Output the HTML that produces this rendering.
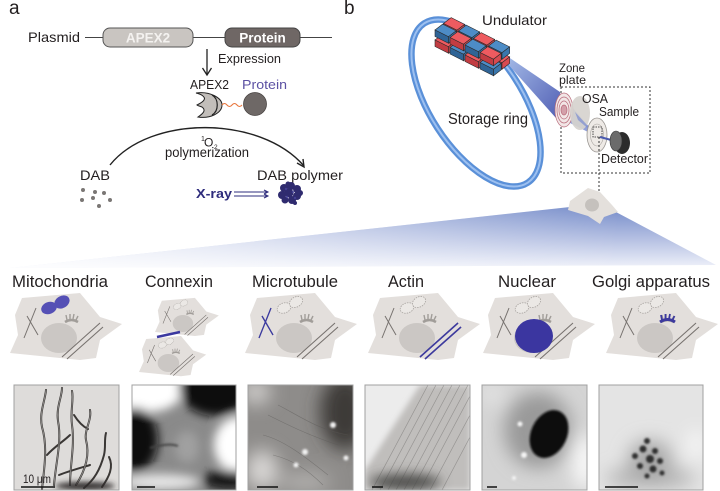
<!DOCTYPE html>
<html><head><meta charset="utf-8"><style>
html,body{margin:0;padding:0;background:#fff;width:720px;height:491px;overflow:hidden;}
svg{display:block;}
text{font-family:"Liberation Sans",Arial,sans-serif;fill:#231f20;}
</style></head><body>
<svg width="720" height="491" viewBox="0 0 720 491" xmlns="http://www.w3.org/2000/svg">
<defs>
 <filter id="b1" filterUnits="userSpaceOnUse" x="0" y="0" width="720" height="491"><feGaussianBlur stdDeviation="1"/></filter>
 <filter id="b3" filterUnits="userSpaceOnUse" x="0" y="0" width="720" height="491"><feGaussianBlur stdDeviation="3"/></filter>
 <filter id="b5" filterUnits="userSpaceOnUse" x="0" y="0" width="720" height="491"><feGaussianBlur stdDeviation="5"/></filter>
 <filter id="b6" filterUnits="userSpaceOnUse" x="0" y="0" width="720" height="491"><feGaussianBlur stdDeviation="6"/></filter>
 <filter id="b9" filterUnits="userSpaceOnUse" x="0" y="0" width="720" height="491"><feGaussianBlur stdDeviation="9"/></filter>
 <linearGradient id="fv" gradientUnits="userSpaceOnUse" x1="0" y1="205" x2="0" y2="268">
  <stop offset="0" stop-color="#7289c8"/><stop offset="0.55" stop-color="#b6c1e3"/><stop offset="1" stop-color="#f0f2fa"/>
 </linearGradient>
 <linearGradient id="fh" gradientUnits="userSpaceOnUse" x1="620" y1="0" x2="0" y2="0">
  <stop offset="0" stop-color="#fff" stop-opacity="0"/><stop offset="1" stop-color="#fff" stop-opacity="0.9"/>
 </linearGradient>
 <linearGradient id="beam" gradientUnits="userSpaceOnUse" x1="500" y1="55" x2="565" y2="110">
  <stop offset="0" stop-color="#a9c0ea"/><stop offset="1" stop-color="#5462b6"/>
 </linearGradient>
 <g id="bB"><polygon points="0,0 13.5,6.75 21.15,0.9 7.65,-5.85" fill="#4d8cc6" stroke="#2a2a2a" stroke-width="0.6"/><polygon points="0,0 13.5,6.75 13.5,13.25 0,6.5" fill="#2f6496" stroke="#2a2a2a" stroke-width="0.6"/><polygon points="13.5,6.75 21.15,0.9 21.15,7.4 13.5,13.25" fill="#3a77ad" stroke="#2a2a2a" stroke-width="0.6"/></g>
 <g id="bR"><polygon points="0,0 13.5,6.75 21.15,0.9 7.65,-5.85" fill="#ee5b60" stroke="#2a2a2a" stroke-width="0.6"/><polygon points="0,0 13.5,6.75 13.5,13.25 0,6.5" fill="#c23c42" stroke="#2a2a2a" stroke-width="0.6"/><polygon points="13.5,6.75 21.15,0.9 21.15,7.4 13.5,13.25" fill="#d84a50" stroke="#2a2a2a" stroke-width="0.6"/></g>
 <g id="cell">
  <polygon points="12,10 70,5 90,29 112,36 90,52 86,70 70,72 0,65 8,47 5,27" fill="#e3dfdc"/>
  <ellipse cx="39" cy="20" rx="7" ry="5" transform="rotate(-20 39 20)" fill="#ebe8e5" stroke="#a8a4a0" stroke-width="0.8" stroke-dasharray="1.5,1"/>
  <ellipse cx="51" cy="14" rx="7" ry="5" transform="rotate(-30 51 14)" fill="#ebe8e5" stroke="#a8a4a0" stroke-width="0.8" stroke-dasharray="1.5,1"/>
  <ellipse cx="49" cy="50" rx="18" ry="15" fill="#cbc7c4"/>
  <path d="M55,34 Q61.5,30 68,34" stroke="#a19d99" stroke-width="2.5" fill="none"/>
  <path d="M57,32 L56,27 M60,31 L60,26 M63,31 L64,26 M66,32 L68,28" stroke="#a19d99" stroke-width="1.4"/>
  <path d="M14,50 L26,20 M17,28 L28,47" stroke="#77726f" stroke-width="1"/>
  <path d="M52,69 L90,35 M57,71 L93,39" stroke="#77726f" stroke-width="1.1"/>
 </g>
 <clipPath id="c1"><rect x="14" y="385" width="105" height="105"/></clipPath>
 <clipPath id="c2"><rect x="132" y="385" width="104" height="105"/></clipPath>
 <clipPath id="c3"><rect x="248" y="385" width="105" height="105"/></clipPath>
 <clipPath id="c4"><rect x="365" y="385" width="105" height="105"/></clipPath>
 <clipPath id="c5"><rect x="482" y="385" width="105" height="105"/></clipPath>
 <clipPath id="c6"><rect x="599" y="385" width="104" height="105"/></clipPath>
</defs>

<!-- Panel labels -->
<text x="9" y="14" font-size="19">a</text>
<text x="344" y="14" font-size="19">b</text>

<!-- Panel a -->
<line x1="85" y1="37.5" x2="332" y2="37.5" stroke="#444" stroke-width="1"/>
<text x="28" y="42" font-size="14" textLength="52" lengthAdjust="spacingAndGlyphs">Plasmid</text>
<rect x="103" y="28" width="90" height="19" rx="7" fill="#c9c5c1" stroke="#555" stroke-width="1"/>
<text x="148" y="42.5" font-size="13.5" font-weight="bold" text-anchor="middle" style="fill:#f4f2f0">APEX2</text>
<rect x="225" y="28" width="75" height="19" rx="7" fill="#6f6765" stroke="#444" stroke-width="1"/>
<text x="262.5" y="42.5" font-size="13.5" font-weight="bold" text-anchor="middle" style="fill:#fff">Protein</text>
<line x1="207" y1="49" x2="207" y2="74" stroke="#222" stroke-width="1.3"/>
<polyline points="202.5,68 207,75 211.5,68" fill="none" stroke="#222" stroke-width="1.3"/>
<text x="218" y="63" font-size="13" textLength="63" lengthAdjust="spacingAndGlyphs">Expression</text>
<text x="190" y="89" font-size="12.5" textLength="39" lengthAdjust="spacingAndGlyphs">APEX2</text>
<text x="242" y="89" font-size="12.5" textLength="45" lengthAdjust="spacingAndGlyphs" style="fill:#5c51a3">Protein</text>
<path d="M196,93 C210,91 222,98 222,105 C222,113 210,119 198,117 C204,113 206,110 202,107 C200,106 198,106 197,105 C199,104 203,102 204,100 C206,97 201,94 196,93 Z" fill="#c2beba" stroke="#222" stroke-width="1"/>
<path d="M212,95 C219,99 219,111 212,115" fill="none" stroke="#222" stroke-width="1.2"/>
<path d="M222,105 q2.5,-3 5,0 t5,0 t5,0 t5,0" fill="none" stroke="#e8743a" stroke-width="1"/>
<circle cx="255" cy="104" r="11.5" fill="#6e6866" stroke="#4a4543" stroke-width="0.8"/>
<path d="M110,165 C150,115 260,115 304,166" fill="none" stroke="#222" stroke-width="1.4"/>
<polyline points="297,163 304,167 303,159" fill="none" stroke="#222" stroke-width="1.4"/>
<text x="201" y="141" font-size="7">1</text>
<text x="204" y="146.5" font-size="12">O</text>
<text x="214" y="149" font-size="6.5">2</text>
<text x="165" y="157" font-size="13.5" textLength="84" lengthAdjust="spacingAndGlyphs">polymerization</text>
<text x="80" y="180" font-size="14" textLength="30" lengthAdjust="spacingAndGlyphs">DAB</text>
<text x="257" y="180" font-size="14" textLength="86" lengthAdjust="spacingAndGlyphs">DAB polymer</text>
<g fill="#7a7674">
 <circle cx="83" cy="190" r="2"/><circle cx="95" cy="192" r="2"/><circle cx="104" cy="193" r="2"/>
 <circle cx="82" cy="200" r="2"/><circle cx="93" cy="198" r="2"/><circle cx="110" cy="200" r="2"/><circle cx="99" cy="206" r="2"/>
</g>
<text x="196" y="198" font-size="13" font-weight="bold" textLength="36" lengthAdjust="spacingAndGlyphs" style="fill:#2e2c7c">X-ray</text>
<g stroke="#2e2c7c" stroke-width="1" fill="none">
 <line x1="234" y1="192" x2="268" y2="192"/><line x1="234" y1="196" x2="268" y2="196"/>
 <polyline points="264,190 268,192 264,194"/><polyline points="264,194 268,196 264,198"/>
</g>
<g fill="#2f2b6f">
 <circle cx="284" cy="188" r="4"/><circle cx="291" cy="186" r="4"/><circle cx="297" cy="189" r="4"/>
 <circle cx="282" cy="195" r="4"/><circle cx="289" cy="193" r="4.5"/><circle cx="297" cy="196" r="4"/>
 <circle cx="285" cy="200" r="3.5"/><circle cx="292" cy="200" r="4"/><circle cx="300" cy="193" r="3"/>
 <circle cx="288" cy="184" r="2.5"/><circle cx="295" cy="203" r="2"/>
</g>
<g fill="#4a46a0" opacity="0.7">
 <circle cx="286" cy="189" r="1.2"/><circle cx="293" cy="192" r="1.2"/><circle cx="287" cy="197" r="1.2"/><circle cx="295" cy="198" r="1.2"/>
</g>

<!-- Panel b -->
<ellipse cx="476" cy="103" rx="95" ry="46" transform="rotate(57 476 103)" fill="none" stroke="#5a90d8" stroke-width="6.5"/>
<ellipse cx="476" cy="103" rx="95" ry="46" transform="rotate(57 476 103)" fill="none" stroke="#9dc0f0" stroke-width="2"/>
<!-- beam -->
<polygon points="498,50 506,62 564,127 560,92" fill="url(#beam)"/>
<circle cx="500" cy="58" r="7" fill="#c0d4f4" filter="url(#b3)"/>
<!-- undulator bottom layer -->
<use href="#bB" x="443.5" y="33.5"/><use href="#bR" x="458.5" y="41"/><use href="#bB" x="473.5" y="48.5"/><use href="#bR" x="488.5" y="56"/>
<use href="#bR" x="435" y="40"/><use href="#bB" x="450" y="47.5"/><use href="#bR" x="465" y="55"/><use href="#bB" x="480" y="62.5"/>
<!-- top layer -->
<use href="#bR" x="443.5" y="23.5"/><use href="#bB" x="458.5" y="31"/><use href="#bR" x="473.5" y="38.5"/><use href="#bB" x="488.5" y="46"/>
<use href="#bB" x="435" y="30"/><use href="#bR" x="450" y="37.5"/><use href="#bB" x="465" y="45"/><use href="#bR" x="480" y="52.5"/>
<text x="482" y="25" font-size="14" textLength="65" lengthAdjust="spacingAndGlyphs">Undulator</text>
<text x="448" y="124" font-size="15.5" textLength="80" lengthAdjust="spacingAndGlyphs">Storage ring</text>
<text x="559" y="72" font-size="12" textLength="26" lengthAdjust="spacingAndGlyphs">Zone</text>
<text x="559" y="84" font-size="12" textLength="27" lengthAdjust="spacingAndGlyphs">plate</text>
<rect x="561" y="87" width="89" height="86" fill="none" stroke="#333" stroke-width="1" stroke-dasharray="2,2"/>
<!-- focusing beam -->
<polygon points="566,100 566,121 598,137" fill="#6d80cc" opacity="0.75"/>
<!-- zone plate -->
<ellipse cx="564" cy="110" rx="9" ry="17" fill="#f2e6e6" stroke="#b86a7a" stroke-width="0.7"/>
<ellipse cx="564" cy="110" rx="7" ry="13" fill="none" stroke="#b86a7a" stroke-width="0.7"/>
<ellipse cx="564" cy="110" rx="5" ry="9" fill="none" stroke="#b86a7a" stroke-width="0.7"/>
<ellipse cx="564" cy="110" rx="3" ry="5" fill="#d4a0aa" stroke="#b86a7a" stroke-width="0.7"/>
<!-- OSA -->
<ellipse cx="580" cy="113" rx="10" ry="17" fill="#d6d2ce" opacity="0.92"/>
<polygon points="575,112 578,120 598,137" fill="#7a8cd0" opacity="0.7"/>
<text x="582" y="103" font-size="13" textLength="26" lengthAdjust="spacingAndGlyphs">OSA</text>
<text x="599" y="116" font-size="13" textLength="40" lengthAdjust="spacingAndGlyphs">Sample</text>
<!-- sample -->
<ellipse cx="597" cy="135" rx="10" ry="17" fill="#eeeae6" stroke="#9a9692" stroke-width="0.8"/>
<ellipse cx="597" cy="135" rx="6.5" ry="11" fill="none" stroke="#aaa6a2" stroke-width="0.6"/>
<rect x="593" y="127" width="9" height="10" fill="none" stroke="#222" stroke-width="0.8" stroke-dasharray="1.5,1"/>
<line x1="600" y1="137" x2="615" y2="141" stroke="#4a5ab0" stroke-width="2"/>
<!-- detector -->
<ellipse cx="622" cy="143" rx="8" ry="11" fill="#2c2c2c"/>
<ellipse cx="616" cy="141" rx="6" ry="10" fill="#6b6b6b" stroke="#333" stroke-width="0.6"/>
<text x="601" y="163" font-size="13" textLength="47" lengthAdjust="spacingAndGlyphs">Detector</text>
<line x1="599" y1="137" x2="599" y2="191" stroke="#333" stroke-width="1" stroke-dasharray="2,2"/>

<!-- funnel -->
<polygon points="570,207 614,211 716,265 10,268" fill="url(#fv)"/>
<polygon points="570,207 614,211 716,265 10,268" fill="url(#fh)"/>
<!-- small cell -->
<polygon points="570,201 588,188 600,192 612,205 618,212 604,217 600,224 588,216 568,210" fill="#e4e0dc"/>
<ellipse cx="592" cy="205" rx="7" ry="6.5" fill="#c5c1bd"/>

<!-- Row labels -->
<g font-size="16.5">
<text x="12" y="287" textLength="96" lengthAdjust="spacingAndGlyphs">Mitochondria</text>
<text x="145" y="287" textLength="68" lengthAdjust="spacingAndGlyphs">Connexin</text>
<text x="252" y="287" textLength="86" lengthAdjust="spacingAndGlyphs">Microtubule</text>
<text x="388" y="287" textLength="36" lengthAdjust="spacingAndGlyphs">Actin</text>
<text x="498" y="287" textLength="58" lengthAdjust="spacingAndGlyphs">Nuclear</text>
<text x="592" y="287" textLength="118" lengthAdjust="spacingAndGlyphs">Golgi apparatus</text>
</g>

<!-- Cells -->
<g transform="translate(10,288)">
 <use href="#cell"/>
 <ellipse cx="39" cy="20" rx="8" ry="6" transform="rotate(-20 39 20)" fill="#5550b5"/>
 <ellipse cx="52" cy="14" rx="8" ry="6" transform="rotate(-30 52 14)" fill="#5550b5"/>
</g>
<g transform="translate(155,295) scale(0.57)"><use href="#cell"/></g>
<g transform="translate(139,333) scale(0.6)"><use href="#cell"/></g>
<line x1="157" y1="337" x2="180" y2="332" stroke="#3b38a0" stroke-width="2.5"/>
<g transform="translate(245,288)">
 <use href="#cell"/>
 <path d="M14,50 L26,20 M17,28 L28,47" stroke="#3b3aa0" stroke-width="1.3"/>
</g>
<g transform="translate(368,288)">
 <use href="#cell"/>
 <path d="M52,69 L90,35 M57,71 L93,39" stroke="#3d3a9e" stroke-width="1.6"/>
</g>
<g transform="translate(483,288)">
 <use href="#cell"/>
 <ellipse cx="51" cy="48" rx="19" ry="17" fill="#3b36a0"/>
</g>
<g transform="translate(606,288)">
 <use href="#cell"/>
 <path d="M54,34 Q61.5,29 69,34" stroke="#3d3a9e" stroke-width="3" fill="none"/>
 <path d="M56,32 L55,27 M59.5,31 L59.5,26 M63,31 L64,26 M66.5,32 L68.5,28" stroke="#3d3a9e" stroke-width="1.8"/>
</g>

<!-- Micrographs -->
<!-- 1 Mitochondria -->
<g clip-path="url(#c1)">
 <rect x="14" y="385" width="105" height="105" fill="#dedcda"/>
 <g fill="none" stroke="#3a3735" stroke-width="2" stroke-linecap="round">
  <path d="M42,489 C44,470 48,447 42,427 C39,413 45,401 46,390"/>
  <path d="M54,485 C56,461 62,441 58,421 C56,407 62,397 62,388"/>
  <path d="M70,485 C70,465 75,445 72,425 C70,411 74,400 72,391"/>
  <path d="M76,485 C85,471 90,455 86,440 C84,430 92,420 90,410"/>
  <path d="M84,488 C94,480 100,470 104,455 C106,447 104,440 106,433"/>
  <path d="M102,487 C109,477 114,467 109,457"/>
  <path d="M47,455 C54,447 64,441 70,435"/>
  <path d="M59,475 C69,471 80,468 90,465"/>
  <path d="M74,415 C79,423 84,427 88,429"/>
 </g>
 <g fill="none" stroke="#9a9896" stroke-width="0.8">
  <path d="M42,489 C44,470 48,447 42,427 C39,413 45,401 46,390"/>
  <path d="M54,485 C56,461 62,441 58,421 C56,407 62,397 62,388"/>
  <path d="M70,485 C70,465 75,445 72,425 C70,411 74,400 72,391"/>
  <path d="M76,485 C85,471 90,455 86,440 C84,430 92,420 90,410"/>
 </g>
 <ellipse cx="85" cy="486" rx="30" ry="4" fill="#2e2c2a" filter="url(#b3)"/>
 <line x1="21" y1="487" x2="55" y2="487" stroke="#111" stroke-width="1.5"/>
 <text x="23" y="483" font-size="11.5" textLength="28" lengthAdjust="spacingAndGlyphs">10 μm</text>
</g>
<rect x="14" y="385" width="105" height="105" fill="none" stroke="#a0a0a0" stroke-width="1"/>
<!-- 2 Connexin -->
<g clip-path="url(#c2)">
 <rect x="132" y="385" width="104" height="105" fill="#8a8a8a"/>
 <g filter="url(#b5)">
  <ellipse cx="148" cy="388" rx="36" ry="24" fill="#fff"/>
  <ellipse cx="238" cy="445" rx="24" ry="28" fill="#fff"/>
  <ellipse cx="160" cy="482" rx="40" ry="8" fill="#e6e6e6"/>
  <ellipse cx="215" cy="388" rx="36" ry="28" fill="#0e0e0e"/>
  <ellipse cx="136" cy="440" rx="22" ry="32" fill="#0e0e0e"/>
  <ellipse cx="228" cy="480" rx="26" ry="10" fill="#121212"/>
  <ellipse cx="187" cy="447" rx="12" ry="16" fill="#a0a0a0"/>
 </g>
 <path d="M150,448 C160,445 170,443 178,446" stroke="#444" stroke-width="2" fill="none" filter="url(#b1)"/>
 <line x1="137" y1="487" x2="155" y2="487" stroke="#111" stroke-width="1.5"/>
</g>
<rect x="132" y="385" width="104" height="105" fill="none" stroke="#a0a0a0" stroke-width="1"/>
<!-- 3 Microtubule -->
<g clip-path="url(#c3)">
 <rect x="248" y="385" width="105" height="105" fill="#8e8c8a"/>
 <g filter="url(#b9)">
  <ellipse cx="345" cy="412" rx="25" ry="38" fill="#3c3a38"/>
  <ellipse cx="262" cy="470" rx="16" ry="20" fill="#d8d6d4"/>
  <ellipse cx="256" cy="392" rx="14" ry="12" fill="#d4d2d0"/>
  <ellipse cx="305" cy="482" rx="26" ry="8" fill="#b8b6b4"/>
 </g>
 <g transform="translate(248,385)" stroke="#5a5856" stroke-width="0.6" opacity="0.5" fill="none">
  <path d="M20,30 C40,40 60,50 90,60"/><path d="M15,50 C35,55 55,70 80,90"/><path d="M30,20 C50,30 70,45 100,50"/><path d="M25,70 C45,75 60,85 75,100"/>
 </g>
 <g fill="#f2f2f2" filter="url(#b1)">
  <circle cx="333" cy="425" r="3"/><circle cx="305" cy="452" r="3"/><circle cx="296" cy="465" r="2.5"/><circle cx="346" cy="458" r="2.5"/>
 </g>
 <line x1="257" y1="487" x2="278" y2="487" stroke="#111" stroke-width="1.5"/>
</g>
<rect x="248" y="385" width="105" height="105" fill="none" stroke="#a0a0a0" stroke-width="1"/>
<!-- 4 Actin -->
<g clip-path="url(#c4)">
 <rect x="365" y="385" width="105" height="105" fill="#ececec"/>
 <polygon points="365,490 365,470 420,385 470,385 470,490" fill="#c0bebc" filter="url(#b3)"/>
 <g stroke="#7a7876" stroke-width="0.7" opacity="0.6">
  <line x1="372" y1="490" x2="428" y2="385"/><line x1="380" y1="490" x2="436" y2="385"/><line x1="388" y1="490" x2="444" y2="385"/>
  <line x1="396" y1="490" x2="452" y2="385"/><line x1="404" y1="490" x2="460" y2="385"/><line x1="412" y1="490" x2="468" y2="385"/>
  <line x1="420" y1="490" x2="470" y2="396"/><line x1="430" y1="490" x2="470" y2="415"/><line x1="442" y1="490" x2="470" y2="437"/>
 </g>
 <ellipse cx="405" cy="482" rx="36" ry="8" fill="#4a4846" filter="url(#b6)"/>
 <line x1="372" y1="487" x2="383" y2="487" stroke="#111" stroke-width="1.5"/>
</g>
<rect x="365" y="385" width="105" height="105" fill="none" stroke="#a0a0a0" stroke-width="1"/>
<!-- 5 Nuclear -->
<g clip-path="url(#c5)">
 <rect x="482" y="385" width="105" height="105" fill="#d4d4d4"/>
 <g filter="url(#b9)">
  <ellipse cx="538" cy="430" rx="34" ry="38" fill="#9a9a9a"/>
  <ellipse cx="585" cy="462" rx="12" ry="28" fill="#fafafa"/>
  <ellipse cx="492" cy="394" rx="10" ry="9" fill="#e8e8e8"/>
 </g>
 <ellipse cx="549" cy="434" rx="18" ry="25" transform="rotate(25 549 434)" fill="#111" filter="url(#b1)"/>
 <g fill="#f4f4f4" filter="url(#b1)"><circle cx="520" cy="424" r="2.5"/><circle cx="524" cy="455" r="3"/><circle cx="514" cy="478" r="2"/></g>
 <line x1="487" y1="487" x2="497" y2="487" stroke="#111" stroke-width="1.5"/>
</g>
<rect x="482" y="385" width="105" height="105" fill="none" stroke="#a0a0a0" stroke-width="1"/>
<!-- 6 Golgi -->
<g clip-path="url(#c6)">
 <rect x="599" y="385" width="104" height="105" fill="#e4e4e4"/>
 <g filter="url(#b9)">
  <ellipse cx="650" cy="478" rx="45" ry="11" fill="#b4b4b4"/>
  <ellipse cx="650" cy="460" rx="22" ry="20" fill="#a8a8a8"/>
  <ellipse cx="696" cy="445" rx="6" ry="15" fill="#fff"/>
 </g>
 <g fill="#2e2e2e" filter="url(#b1)">
  <circle cx="647" cy="441" r="3"/><circle cx="643" cy="449" r="3.5"/><circle cx="655" cy="451" r="3"/>
  <circle cx="635" cy="456" r="3"/><circle cx="650" cy="459" r="4"/><circle cx="660" cy="461" r="3"/>
  <circle cx="640" cy="466" r="3"/><circle cx="653" cy="469" r="3.5"/><circle cx="647" cy="476" r="2.5"/><circle cx="662" cy="473" r="2.5"/>
 </g>
 <line x1="605" y1="487" x2="638" y2="487" stroke="#111" stroke-width="1.5"/>
</g>
<rect x="599" y="385" width="104" height="105" fill="none" stroke="#a0a0a0" stroke-width="1"/>
</svg>
</body></html>
